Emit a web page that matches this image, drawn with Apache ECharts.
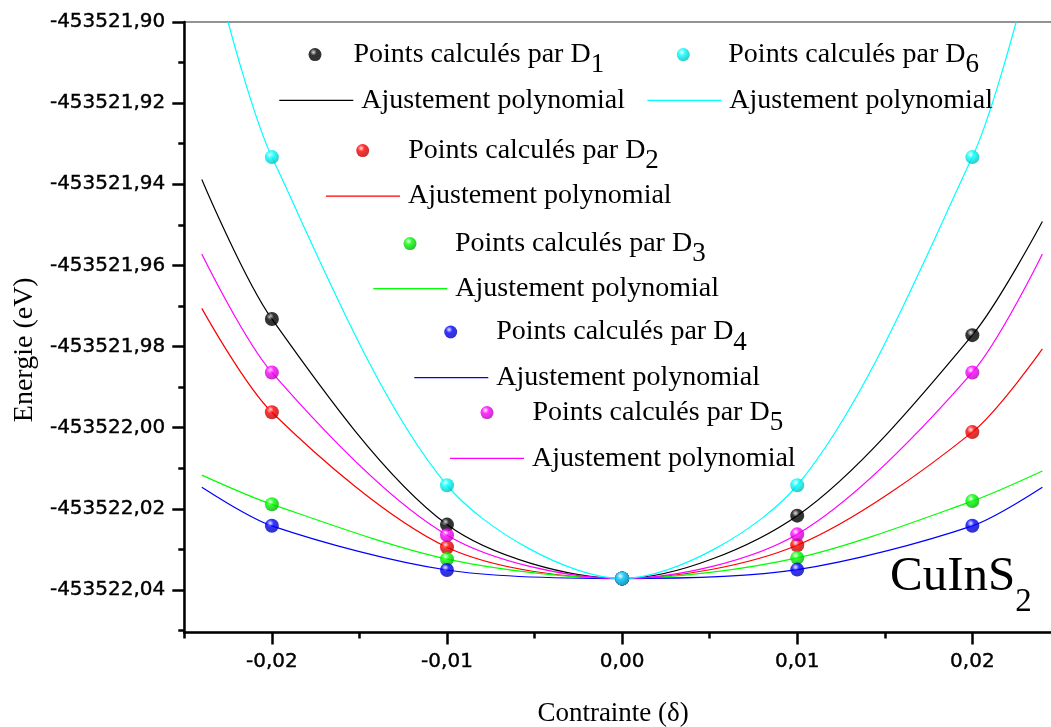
<!DOCTYPE html>
<html>
<head>
<meta charset="utf-8">
<title>CuInS2 - Energie vs contrainte</title>
<script src="https://cdn.jsdelivr.net/npm/echarts@6/dist/echarts.min.js"></script>
<style>
  html, body { margin: 0; padding: 0; background: #fff; }
  #chart { width: 1051px; height: 727px; }
</style>
</head>
<body>
<div id="chart"></div>
<script>
// points calculés : contrainte (delta) et énergie (eV)
var strain = [-0.02, -0.01, 0.00, 0.01, 0.02];
var energyD1 = [-453521.9732, -453522.0239, -453522.0372, -453522.0217, -453521.9772];
var energyD2 = [-453521.9962, -453522.0295, -453522.0372, -453522.0290, -453522.0011];
var energyD3 = [-453522.0189, -453522.0324, -453522.0372, -453522.0321, -453522.0181];
var energyD4 = [-453522.0242, -453522.0351, -453522.0372, -453522.0350, -453522.0242];
var energyD5 = [-453521.9864, -453522.0265, -453522.0372, -453522.0263, -453521.9864];
var energyD6 = [-453521.9333, -453522.0142, -453522.0372, -453522.0142, -453521.9333];

// ajustements polynomiaux
var fitStrain = [-0.024, -0.02, -0.01, 0.00, 0.01, 0.02, 0.024];
var fitStrainD6 = [-0.0225, -0.02, -0.01, 0.00, 0.01, 0.02, 0.0225];
var fitD1 = [-453521.9388, -453521.9732, -453522.0239, -453522.0372, -453522.0217, -453521.9772, -453521.9492];
var fitD2 = [-453521.9706, -453521.9962, -453522.0295, -453522.0372, -453522.0290, -453522.0011, -453521.9806];
var fitD3 = [-453522.0117, -453522.0189, -453522.0324, -453522.0372, -453522.0321, -453522.0181, -453522.0107];
var fitD4 = [-453522.0147, -453522.0242, -453522.0351, -453522.0372, -453522.0350, -453522.0242, -453522.0147];
var fitD5 = [-453521.9572, -453521.9864, -453522.0265, -453522.0372, -453522.0263, -453521.9864, -453521.9572];
var fitD6 = [-453521.9000, -453521.9333, -453522.0142, -453522.0372, -453522.0142, -453521.9333, -453521.9000];

// graduations
var xTicks = [-0.02, -0.01, 0.00, 0.01, 0.02];
var xMinorTicks = [-0.025, -0.015, -0.005, 0.005, 0.015, 0.025];
var yTicks = [-453522.04, -453522.02, -453522.00, -453521.98, -453521.96, -453521.94, -453521.92, -453521.90];
var yMinorTicks = [-453522.05, -453522.03, -453522.01, -453521.99, -453521.97, -453521.95, -453521.93, -453521.91];

var names = ['D1', 'D2', 'D3', 'D4', 'D5', 'D6'];
var pointSets = [energyD1, energyD2, energyD3, energyD4, energyD5, energyD6];
var fitXs = [fitStrain, fitStrain, fitStrain, fitStrain, fitStrain, fitStrainD6];
var fitSets = [fitD1, fitD2, fitD3, fitD4, fitD5, fitD6];

var colors = ['#000000', '#ff0000', '#00ff00', '#0000ff', '#ff00ff', '#00ffff'];
var shades = ['#000000', '#b00000', '#00a800', '#0000a8', '#b000b0', '#00b8b8'];
var glints = ['#d8d8d8', '#ffe0e0', '#e8ffe8', '#e0e0ff', '#ffe8ff', '#f0ffff'];

var serif = 'Liberation Serif';
var sans = 'DejaVu Sans';

function ball(i) {
  return {
    type: 'radial', x: 0.38, y: 0.32, r: 0.72,
    colorStops: [
      { offset: 0, color: glints[i] },
      { offset: 0.35, color: colors[i] },
      { offset: 1, color: shades[i] }
    ]
  };
}

function zip(xs, ys) {
  return xs.map(function (x, k) { return [x, ys[k]]; });
}

function comma(v) {
  return v.toFixed(2).replace('.', ',');
}

function legendLabel(name) {
  if (name.indexOf('Ajustement') === 0) return 'Ajustement polynomial';
  return name.replace(/D(\d)$/, 'D{sub|$1}');
}

var legendText = {
  fontFamily: serif, fontSize: 28, color: '#000', lineHeight: 40,
  rich: {
    sub: { fontFamily: serif, fontSize: 27, color: '#000', lineHeight: 40, padding: [21, 0, 0, 0] }
  }
};

// dot legend: the box starts at the dot's left edge, text sits at itemWidth + 5
function dotLegend(i, left, top, w) {
  return {
    data: ['Points calculés par ' + names[i]],
    left: left, top: top, padding: 0,
    itemWidth: w, itemHeight: 13,
    selectedMode: false, formatter: legendLabel, textStyle: legendText
  };
}

function lineLegend(i, left, top) {
  return {
    data: [{ name: 'Ajustement polynomial ' + names[i], icon: 'rect' }],
    left: left, top: top, padding: 0,
    itemWidth: 74, itemHeight: 1.3, symbolKeepAspect: false,
    selectedMode: false, formatter: legendLabel,
    textStyle: Object.assign({}, legendText, { padding: [0, 0, 0, 3] })
  };
}

var series = [];
for (var i = 0; i < 6; i++) {
  series.push({
    name: 'Ajustement polynomial ' + names[i],
    type: 'line',
    data: zip(fitXs[i], fitSets[i]),
    smooth: 0.3,
    symbol: 'none',
    lineStyle: { color: colors[i], width: 1.2 },
    itemStyle: { color: colors[i] },
    z: 2
  });
}
for (var j = 0; j < 6; j++) {
  series.push({
    name: 'Points calculés par ' + names[j],
    type: 'scatter',
    data: zip(strain, pointSets[j]),
    symbol: 'circle',
    symbolSize: 14,
    itemStyle: { color: ball(j) },
    z: 3
  });
}

var tickFont = {
  fontFamily: sans, fontSize: 20, color: '#000',
  textBorderColor: '#000', textBorderWidth: 0.4
};

var chart = echarts.init(document.getElementById('chart'));
chart.setOption({
  animation: false,
  backgroundColor: '#ffffff',
  grid: {
    left: 184.3, right: -8.9, top: 22, bottom: 94.5,
    show: true, borderColor: '#707070', borderWidth: 1.5,
    containLabel: false, outerBoundsMode: 'none'
  },
  title: {
    text: 'CuInS{s|2}',
    left: 890, top: 548, padding: 0,
    textStyle: {
      fontFamily: serif, fontSize: 49, fontWeight: 'normal', color: '#000', lineHeight: 58,
      rich: { s: { fontFamily: serif, fontSize: 33, color: '#000', lineHeight: 58, padding: [50, 0, 0, 0] } }
    }
  },
  legend: [
    dotLegend(0, 308.5, 30.6, 67),
    lineLegend(0, 279.3, 101 - 20.6),
    dotLegend(5, 676.8, 30.6, 80),
    lineLegend(5, 647.3, 101 - 20.6),
    dotLegend(1, 356.2, 126.6, 81),
    lineLegend(1, 326, 196.7 - 20.6),
    dotLegend(2, 403.5, 219.6, 80),
    lineLegend(2, 373.3, 289.3 - 20.6),
    dotLegend(3, 444.2, 308, 81),
    lineLegend(3, 414.3, 378.3 - 20.6),
    dotLegend(4, 480.5, 388.6, 81),
    lineLegend(4, 450, 459 - 20.6)
  ],
  xAxis: [
    {
      type: 'value', position: 'bottom', min: -0.025, max: 0.025,
      name: 'Contrainte (δ)', nameLocation: 'middle', nameGap: 68,
      nameTextStyle: { fontFamily: serif, fontSize: 27, color: '#000', padding: [0, 18, 0, 0] },
      axisLine: { onZero: false, lineStyle: { color: '#000', width: 2.5 } },
      axisTick: { customValues: xTicks, length: 12, lineStyle: { color: '#000', width: 2.5 } },
      axisLabel: Object.assign({ customValues: xTicks, formatter: comma, margin: 19 }, tickFont),
      splitLine: { show: false }
    },
    {
      type: 'value', position: 'bottom', min: -0.025, max: 0.025,
      axisLine: { show: false, onZero: false },
      axisTick: { customValues: xMinorTicks, length: 6, lineStyle: { color: '#000', width: 2.5 } },
      axisLabel: { show: false },
      splitLine: { show: false }
    }
  ],
  yAxis: [
    {
      type: 'value', position: 'left', min: -453522.0505, max: -453521.90,
      name: 'Energie (eV)', nameLocation: 'middle', nameRotate: 90, nameGap: 145,
      nameTextStyle: { fontFamily: serif, fontSize: 28, color: '#000', padding: [0, 45, 0, 0] },
      axisLine: { onZero: false, lineStyle: { color: '#000', width: 2.5 } },
      axisTick: { customValues: yTicks, length: 12, lineStyle: { color: '#000', width: 2.5 } },
      axisLabel: Object.assign({ customValues: yTicks, formatter: comma, margin: 19 }, tickFont),
      splitLine: { show: false }
    },
    {
      type: 'value', position: 'left', min: -453522.0505, max: -453521.90,
      axisLine: { show: false, onZero: false },
      axisTick: { customValues: yMinorTicks, length: 6, lineStyle: { color: '#000', width: 2.5 } },
      axisLabel: { show: false },
      splitLine: { show: false }
    }
  ],
  series: series
});
</script>
</body>
</html>
